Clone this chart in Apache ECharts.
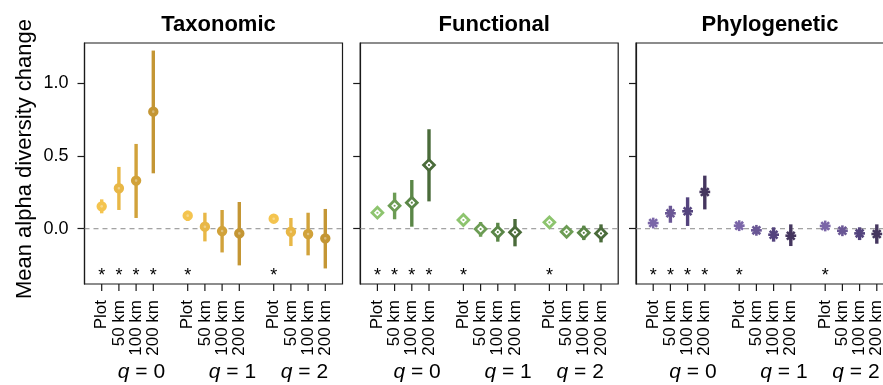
<!DOCTYPE html>
<html><head><meta charset="utf-8">
<script src="https://cdn.jsdelivr.net/npm/echarts@6/dist/echarts.min.js"></script>
<style>html,body{margin:0;padding:0;background:#fff}#c{width:883px;height:385px}</style>
</head><body><div id="c"></div>
<script>
// ---------- data ----------
const scales = ['Plot', '50 km', '100 km', '200 km'];
const qOrders = ['0', '1', '2'];
const xPositions = [1, 2, 3, 4, 6, 7, 8, 9, 11, 12, 13, 14];
const yTicks = [0, 0.5, 1.0];
const panelTitles = ['Taxonomic', 'Functional', 'Phylogenetic'];
const yTitle = 'Mean alpha diversity change';

const taxMean = [0.154, 0.278, 0.331, 0.805, 0.090, 0.014, -0.016, -0.032, 0.069, -0.021, -0.036, -0.066];
const taxLow  = [0.106, 0.129, 0.074, 0.381, 0.053, -0.087, -0.163, -0.252, 0.041, -0.119, -0.183, -0.273];
const taxHigh = [0.202, 0.425, 0.583, 1.225, 0.124, 0.110, 0.129, 0.184, 0.094, 0.074, 0.110, 0.136];

const funMean = [0.110, 0.158, 0.179, 0.438, 0.060, -0.002, -0.023, -0.025, 0.044, -0.021, -0.028, -0.032];
const funLow  = [0.095, 0.065, 0.014, 0.188, 0.048, -0.055, -0.089, -0.121, 0.034, -0.045, -0.078, -0.094];
const funHigh = [0.125, 0.248, 0.335, 0.684, 0.072, 0.046, 0.041, 0.067, 0.054, 0.003, 0.021, 0.030];

const phyMean = [0.039, 0.106, 0.120, 0.253, 0.021, -0.011, -0.041, -0.048, 0.019, -0.014, -0.032, -0.036];
const phyLow  = [0.030, 0.041, 0.019, 0.133, 0.013, -0.035, -0.089, -0.119, 0.011, -0.030, -0.078, -0.103];
const phyHigh = [0.048, 0.158, 0.216, 0.365, 0.029, 0.012, 0.010, 0.030, 0.027, 0.004, 0.010, 0.030];

const significant = [1, 1, 1, 1, 1, 0, 0, 0, 1, 0, 0, 0];
const starValue = -0.3;

// ---------- style ----------
const FONT = '"Liberation Sans", Arial, Helvetica, sans-serif';
const taxColors = ['#F4C44F', '#E8B746', '#D1A23A', '#C49634'];
const funColors = ['#8DC46E', '#6C9C54', '#5A8647', '#4A6B3A'];
const phyColors = ['#7B66A8', '#6A5795', '#54447E', '#45365F'];

const X_MIN = 0, X_MAX = 15, Y_MIN = -0.38, Y_MAX = 1.277;
const GRID_LEFTS = [84.5, 360.2, 636];
const GRID_TOP = 43, GRID_W = 258, GRID_H = 241;
const qLabelUnits = [3.02, 8.31, 12.5];
const TICK_LEN = 7, LABEL_GAP = 16;

const panels = [
  {title: panelTitles[0], mean: taxMean, low: taxLow, high: taxHigh, colors: taxColors, marker: 'circle'},
  {title: panelTitles[1], mean: funMean, low: funLow, high: funHigh, colors: funColors, marker: 'diamond'},
  {title: panelTitles[2], mean: phyMean, low: phyLow, high: phyHigh, colors: phyColors, marker: 'star'}
];

function markerShape(kind, cx, cy, color) {
  if (kind === 'circle') {
    return [
      {type: 'circle', shape: {cx, cy, r: 4.2}, style: {fill: color, stroke: color, lineWidth: 2}},
      {type: 'circle', shape: {cx, cy, r: 1.3}, style: {fill: 'rgba(255,255,255,0.35)'}}
    ];
  }
  if (kind === 'diamond') {
    const s = 5.4;
    return [
      {type: 'polygon', shape: {points: [[cx, cy - s], [cx + s, cy], [cx, cy + s], [cx - s, cy]]},
       style: {fill: '#fff', stroke: color, lineWidth: 2.8}},
      {type: 'circle', shape: {cx, cy, r: 1.1}, style: {fill: color}}
    ];
  }
  const h = 5.4, d = h * 0.72;
  const seg = (x1, y1, x2, y2) => ({type: 'line', shape: {x1, y1, x2, y2}, style: {stroke: color, lineWidth: 2.6}});
  return [
    seg(cx - h, cy, cx + h, cy), seg(cx, cy - h, cx, cy + h),
    seg(cx - d, cy - d, cx + d, cy + d), seg(cx - d, cy + d, cx + d, cy - d)
  ];
}

const axisColor = '#1a1a1a';
const grid = [], xAxis = [], yAxis = [], series = [], title = [];
panels.forEach((p, gi) => {
  grid.push({left: GRID_LEFTS[gi], top: GRID_TOP, width: GRID_W, height: GRID_H,
    outerBoundsMode: 'none', containLabel: false,
    show: true, borderColor: axisColor, borderWidth: 1.2, backgroundColor: 'transparent'});
  xAxis.push({
    type: 'value', gridIndex: gi, min: X_MIN, max: X_MAX, position: 'bottom',
    axisLine: {show: false, onZero: false}, splitLine: {show: false},
    axisTick: {show: false}, axisLabel: {show: false}
  });
  yAxis.push({
    type: 'value', gridIndex: gi, min: Y_MIN, max: Y_MAX, position: 'left',
    axisLine: {show: true, onZero: false, lineStyle: {color: axisColor, width: 1.2}}, splitLine: {show: false},
    axisTick: {show: true, length: TICK_LEN, customValues: yTicks, lineStyle: {color: axisColor, width: 1.2}},
    axisLabel: {show: gi === 0, customValues: yTicks, margin: 16, color: '#000', fontSize: 18, fontFamily: FONT,
      formatter: v => v.toFixed(1)}
  });
  // zero reference line
  series.push({
    type: 'line', xAxisIndex: gi, yAxisIndex: gi, data: [[X_MIN, 0], [X_MAX, 0]],
    symbol: 'none', silent: true, z: 1,
    lineStyle: {color: '#8a8a8a', width: 1, type: [5, 4]}
  });
  // x-axis ticks and rotated labels, placed through the axis scale
  series.push({
    type: 'custom', xAxisIndex: gi, yAxisIndex: gi, silent: true, clip: false, z: 5,
    data: xPositions.map((x, i) => [x, i % 4]),
    renderItem: (params, api) => {
      const pt = api.coord([api.value(0), Y_MIN]);
      return {type: 'group', children: [
        {type: 'line', shape: {x1: pt[0], y1: pt[1], x2: pt[0], y2: pt[1] + TICK_LEN},
         style: {stroke: axisColor, lineWidth: 1.2}},
        {type: 'text', x: pt[0], y: pt[1] + LABEL_GAP, rotation: Math.PI / 2,
         style: {text: scales[api.value(1)], font: '17px ' + FONT, fill: '#000',
           textAlign: 'right', textVerticalAlign: 'middle', align: 'right', verticalAlign: 'middle'}}
      ]};
    }
  });
  // error bars + point estimates
  const data = xPositions.map((x, i) => [x, p.mean[i], p.low[i], p.high[i], i % 4]);
  series.push({
    type: 'custom', xAxisIndex: gi, yAxisIndex: gi, data, z: 3, silent: true,
    renderItem: (params, api) => {
      const x = api.value(0);
      const c = p.colors[api.value(4)];
      const pm = api.coord([x, api.value(1)]);
      const pl = api.coord([x, api.value(2)]);
      const ph = api.coord([x, api.value(3)]);
      return {type: 'group', children: [
        {type: 'line', shape: {x1: pl[0], y1: pl[1], x2: ph[0], y2: ph[1]}, style: {stroke: c, lineWidth: 3.4, lineCap: 'butt'}},
        ...markerShape(p.marker, pm[0], pm[1], c)
      ]};
    }
  });
  // significance stars
  const starData = xPositions.filter((x, i) => significant[i]).map(x => [x, starValue]);
  series.push({
    type: 'custom', xAxisIndex: gi, yAxisIndex: gi, data: starData, z: 4, silent: true,
    renderItem: (params, api) => {
      const pt = api.coord([api.value(0), api.value(1)]);
      return {type: 'text', x: pt[0], y: pt[1] + 4,
        style: {text: '*', fill: '#000', font: '18px ' + FONT, textAlign: 'center', textVerticalAlign: 'middle',
          align: 'center', verticalAlign: 'middle'}};
    }
  });
  // panel title
  title.push({text: p.title, left: GRID_LEFTS[gi] + GRID_W / 2, top: 9, textAlign: 'center',
    textStyle: {fontSize: 22, fontWeight: 'bold', color: '#000', fontFamily: FONT}});
  // q labels
  qOrders.forEach((q, qi) => {
    title.push({text: '{i|q} = ' + q, left: GRID_LEFTS[gi] + qLabelUnits[qi] * GRID_W / (X_MAX - X_MIN), top: 357,
      textAlign: 'center',
      textStyle: {fontSize: 21, fontWeight: 'normal', color: '#000', fontFamily: FONT,
        rich: {i: {fontSize: 21, fontStyle: 'italic', color: '#000', fontFamily: FONT}}}});
  });
});

const graphic = [{
  type: 'text', x: 25, y: 159, rotation: Math.PI / 2, silent: true,
  style: {text: yTitle, font: '22px ' + FONT, fill: '#000', textAlign: 'center', textVerticalAlign: 'middle',
    align: 'center', verticalAlign: 'middle'}
}];

const chart = echarts.init(document.getElementById('c'), null, {renderer: 'canvas'});
chart.setOption({animation: false, backgroundColor: '#fff', title, grid, xAxis, yAxis, series, graphic});
</script>
</body></html>
